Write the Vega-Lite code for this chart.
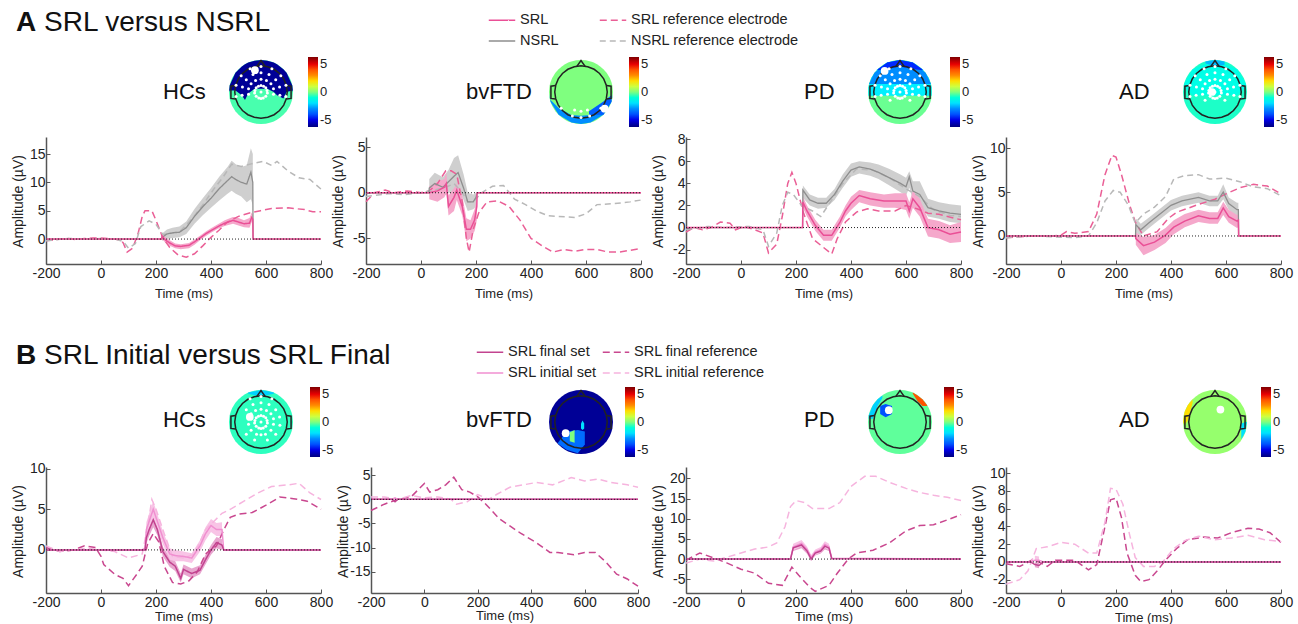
{"$schema":"https://vega.github.io/schema/vega-lite/v6.json","padding":{"left":10,"top":6,"right":5,"bottom":2},"background":"white",
"config":{"locale":{"number":{"decimal":".","thousands":",","grouping":[3],"currency":["$",""],"minus":"-"}},"view":{"stroke":null},"font":"Liberation Sans","axis":{"grid":false,"domainColor":"#555","domainWidth":1.5,"tickColor":"#555","tickSize":-4,"labelColor":"#222","titleColor":"#222","labelFontSize":14,"titleFontSize":13,"titleFontWeight":"normal","labelOverlap":false,"labelFlush":false},"axisX":{"tickCount":6,"labelPadding":6},"axisY":{"titleX":-21,"titleY":64,"labelPadding":5,"titleFontSize":14},"title":{"font":"Liberation Sans","fontWeight":"normal","color":"#111","anchor":"start","frame":"group","baseline":"alphabetic"},"legend":{"labelFontSize":13,"labelColor":"#222","gradientLength":70,"gradientThickness":10,"labelOffset":4,"tickCount":3,"labelLimit":260}},
"datasets":{
"zero":[{"t":-200,"y":0},{"t":800,"y":0}],
"scalp":[{"x":-1,"y":0,"y2":0},{"x":-0.98,"y":0.2,"y2":-0.2},{"x":-0.95,"y":0.31,"y2":-0.31},{"x":-0.9,"y":0.44,"y2":-0.44},{"x":-0.8,"y":0.6,"y2":-0.6},{"x":-0.7,"y":0.71,"y2":-0.71},{"x":-0.6,"y":0.8,"y2":-0.8},{"x":-0.5,"y":0.87,"y2":-0.87},{"x":-0.4,"y":0.92,"y2":-0.92},{"x":-0.3,"y":0.95,"y2":-0.95},{"x":-0.15,"y":0.99,"y2":-0.99},{"x":0,"y":1,"y2":-1},{"x":0.15,"y":0.99,"y2":-0.99},{"x":0.3,"y":0.95,"y2":-0.95},{"x":0.4,"y":0.92,"y2":-0.92},{"x":0.5,"y":0.87,"y2":-0.87},{"x":0.6,"y":0.8,"y2":-0.8},{"x":0.7,"y":0.71,"y2":-0.71},{"x":0.8,"y":0.6,"y2":-0.6},{"x":0.9,"y":0.44,"y2":-0.44},{"x":0.95,"y":0.31,"y2":-0.31},{"x":0.98,"y":0.2,"y2":-0.2},{"x":1,"y":0,"y2":0}],
"head":[{"p":0,"i":0,"x":0,"y":0.82},{"p":0,"i":1,"x":0.21,"y":0.79},{"p":0,"i":2,"x":0.41,"y":0.71},{"p":0,"i":3,"x":0.58,"y":0.58},{"p":0,"i":4,"x":0.71,"y":0.41},{"p":0,"i":5,"x":0.79,"y":0.21},{"p":0,"i":6,"x":0.82,"y":0},{"p":0,"i":7,"x":0.79,"y":-0.21},{"p":0,"i":8,"x":0.71,"y":-0.41},{"p":0,"i":9,"x":0.58,"y":-0.58},{"p":0,"i":10,"x":0.41,"y":-0.71},{"p":0,"i":11,"x":0.21,"y":-0.79},{"p":0,"i":12,"x":0,"y":-0.82},{"p":0,"i":13,"x":-0.21,"y":-0.79},{"p":0,"i":14,"x":-0.41,"y":-0.71},{"p":0,"i":15,"x":-0.58,"y":-0.58},{"p":0,"i":16,"x":-0.71,"y":-0.41},{"p":0,"i":17,"x":-0.79,"y":-0.21},{"p":0,"i":18,"x":-0.82,"y":0},{"p":0,"i":19,"x":-0.79,"y":0.21},{"p":0,"i":20,"x":-0.71,"y":0.41},{"p":0,"i":21,"x":-0.58,"y":0.58},{"p":0,"i":22,"x":-0.41,"y":0.71},{"p":0,"i":23,"x":-0.21,"y":0.79},{"p":0,"i":24,"x":0,"y":0.82},{"p":1,"i":25,"x":-0.13,"y":0.8},{"p":1,"i":26,"x":0,"y":0.98},{"p":1,"i":27,"x":0.13,"y":0.8},{"p":2,"i":28,"x":-0.8,"y":0.2},{"p":2,"i":29,"x":-0.94,"y":0.18},{"p":2,"i":30,"x":-0.94,"y":-0.2},{"p":2,"i":31,"x":-0.8,"y":-0.22},{"p":3,"i":32,"x":0.8,"y":0.2},{"p":3,"i":33,"x":0.94,"y":0.18},{"p":3,"i":34,"x":0.94,"y":-0.2},{"p":3,"i":35,"x":0.8,"y":-0.22}],
"elec":[{"x":0,"y":0},{"x":0,"y":0.2},{"x":0,"y":0.4},{"x":0,"y":0.6},{"x":0,"y":0.8},{"x":0.08,"y":0.18},{"x":0.17,"y":0.36},{"x":0.25,"y":0.55},{"x":0.34,"y":0.73},{"x":0.15,"y":0.13},{"x":0.31,"y":0.26},{"x":0.46,"y":0.38},{"x":0.62,"y":0.51},{"x":0.19,"y":0.05},{"x":0.39,"y":0.1},{"x":0.58,"y":0.16},{"x":0.78,"y":0.21},{"x":0.2,"y":-0.03},{"x":0.39,"y":-0.07},{"x":0.59,"y":-0.1},{"x":0.78,"y":-0.14},{"x":0.15,"y":-0.13},{"x":0.31,"y":-0.26},{"x":0.46,"y":-0.38},{"x":0.62,"y":-0.51},{"x":0.07,"y":-0.19},{"x":0.14,"y":-0.38},{"x":0.2,"y":-0.56},{"x":0.27,"y":-0.75},{"x":0,"y":-0.2},{"x":0,"y":-0.4},{"x":0,"y":-0.6},{"x":0,"y":-0.8},{"x":-0.08,"y":0.18},{"x":-0.17,"y":0.36},{"x":-0.25,"y":0.55},{"x":-0.34,"y":0.73},{"x":-0.15,"y":0.13},{"x":-0.31,"y":0.26},{"x":-0.46,"y":0.38},{"x":-0.62,"y":0.51},{"x":-0.19,"y":0.05},{"x":-0.39,"y":0.1},{"x":-0.58,"y":0.16},{"x":-0.78,"y":0.21},{"x":-0.2,"y":-0.03},{"x":-0.39,"y":-0.07},{"x":-0.59,"y":-0.1},{"x":-0.78,"y":-0.14},{"x":-0.15,"y":-0.13},{"x":-0.31,"y":-0.26},{"x":-0.46,"y":-0.38},{"x":-0.62,"y":-0.51},{"x":-0.07,"y":-0.19},{"x":-0.14,"y":-0.38},{"x":-0.2,"y":-0.56},{"x":-0.27,"y":-0.75}],
"a1s":[{"t":-200,"y":0},{"t":221,"y":0},{"t":222,"y":0.5,"lo":0,"hi":1},{"t":235,"y":-0.2,"lo":-0.7,"hi":0.3},{"t":250,"y":-0.7,"lo":-1.2,"hi":-0.2},{"t":270,"y":-1.2,"lo":-1.6,"hi":-0.8},{"t":290,"y":-1.3,"lo":-1.8,"hi":-0.9},{"t":320,"y":-1.1,"lo":-1.6,"hi":-0.7},{"t":340,"y":-0.5,"lo":-1,"hi":-0.1},{"t":360,"y":0.2,"lo":-0.2,"hi":0.6},{"t":380,"y":0.9,"lo":0.5,"hi":1.3},{"t":400,"y":1.5,"lo":1.1,"hi":1.9},{"t":425,"y":2.2,"lo":1.8,"hi":2.6},{"t":450,"y":2.8,"lo":2.3,"hi":3.3},{"t":480,"y":3.3,"lo":2.7,"hi":3.9},{"t":500,"y":3,"lo":2.4,"hi":3.7},{"t":520,"y":2.7,"lo":2.1,"hi":3.3},{"t":540,"y":2.8,"lo":2,"hi":3.7},{"t":548,"y":3.8,"lo":3,"hi":4.7},{"t":552,"y":3.5,"lo":2.8,"hi":4.3},{"t":553,"y":0},{"t":800,"y":0}],
"a1n":[{"t":-200,"y":0},{"t":221,"y":0},{"t":222,"y":0.3,"lo":-0.3,"hi":1},{"t":240,"y":0.9,"lo":0,"hi":1.7},{"t":260,"y":1.1,"lo":0.2,"hi":2},{"t":285,"y":1.2,"lo":0.3,"hi":2.2},{"t":310,"y":2,"lo":0.9,"hi":3.1},{"t":340,"y":4,"lo":2.7,"hi":5.3},{"t":370,"y":5.7,"lo":4.2,"hi":7.2},{"t":400,"y":7.2,"lo":5.5,"hi":9},{"t":430,"y":8.9,"lo":6.8,"hi":11},{"t":460,"y":10.3,"lo":8,"hi":12.7},{"t":475,"y":11,"lo":8.5,"hi":13.8},{"t":490,"y":10.5,"lo":8,"hi":13.2},{"t":510,"y":10,"lo":7.5,"hi":12.7},{"t":530,"y":9.7,"lo":6.5,"hi":13},{"t":545,"y":11.8,"lo":7,"hi":16},{"t":552,"y":10,"lo":6,"hi":15},{"t":553,"y":0},{"t":800,"y":0}],
"a1rs":[{"t":-200,"y":-0.3},{"t":-150,"y":0},{"t":-120,"y":0.1},{"t":-90,"y":-0.1},{"t":-60,"y":0.1},{"t":-30,"y":0.2},{"t":0,"y":0.2},{"t":30,"y":0.1},{"t":60,"y":-0.1},{"t":80,"y":-0.6},{"t":95,"y":-2.3},{"t":115,"y":-1.6},{"t":135,"y":1},{"t":150,"y":4},{"t":160,"y":5},{"t":185,"y":5},{"t":200,"y":3.3},{"t":225,"y":0.2},{"t":250,"y":-1.5},{"t":280,"y":-2.8},{"t":310,"y":-3.2},{"t":340,"y":-2.6},{"t":370,"y":-1.2},{"t":400,"y":0.3},{"t":430,"y":1.6},{"t":460,"y":3},{"t":500,"y":4},{"t":540,"y":4.6},{"t":580,"y":5},{"t":620,"y":5.4},{"t":680,"y":5.5},{"t":740,"y":5.2},{"t":770,"y":4.8},{"t":800,"y":4.8}],
"a1rn":[{"t":-200,"y":-0.3},{"t":-120,"y":0.1},{"t":-60,"y":0},{"t":0,"y":0.1},{"t":50,"y":0},{"t":80,"y":-0.4},{"t":100,"y":-1.6},{"t":125,"y":-0.8},{"t":145,"y":2.2},{"t":175,"y":3.2},{"t":200,"y":2.6},{"t":225,"y":0.8},{"t":255,"y":1},{"t":290,"y":1.5},{"t":330,"y":3.5},{"t":370,"y":6},{"t":410,"y":8.8},{"t":445,"y":11},{"t":475,"y":13.2},{"t":510,"y":12.8},{"t":550,"y":13.3},{"t":590,"y":13.7},{"t":620,"y":13},{"t":640,"y":13.7},{"t":680,"y":12},{"t":720,"y":10.8},{"t":760,"y":10.5},{"t":800,"y":8.8}],
"a2s":[{"t":-200,"y":0},{"t":29,"y":0},{"t":30,"y":0,"lo":-0.7,"hi":0.7},{"t":60,"y":0.2,"lo":-1,"hi":1.2},{"t":85,"y":0.6,"lo":-0.5,"hi":1.5},{"t":92,"y":1,"lo":0,"hi":2.2},{"t":100,"y":-1.5,"lo":-2.5,"hi":-0.3},{"t":120,"y":-0.5,"lo":-2,"hi":0.5},{"t":130,"y":0.3,"lo":-0.8,"hi":1},{"t":150,"y":-1.5,"lo":-2.5,"hi":-0.3},{"t":165,"y":-4,"lo":-5.3,"hi":-2.8},{"t":180,"y":-4,"lo":-5,"hi":-3},{"t":195,"y":-3,"lo":-4.2,"hi":-1.8},{"t":203,"y":-1.5,"lo":-3,"hi":-0.3},{"t":204,"y":0},{"t":800,"y":0}],
"a2n":[{"t":-200,"y":0},{"t":29,"y":0},{"t":30,"y":0.5,"lo":-0.2,"hi":1.5},{"t":50,"y":1,"lo":0,"hi":2.2},{"t":80,"y":0.6,"lo":-0.5,"hi":1.7},{"t":100,"y":1.2,"lo":0,"hi":2.5},{"t":120,"y":1.8,"lo":0,"hi":3.8},{"t":135,"y":2.2,"lo":0.3,"hi":4.1},{"t":155,"y":0.5,"lo":-0.8,"hi":2},{"t":170,"y":-1,"lo":-2,"hi":0},{"t":190,"y":-1,"lo":-1.8,"hi":-0.2},{"t":200,"y":-0.5,"lo":-1.5,"hi":0},{"t":204,"y":0},{"t":800,"y":0}],
"a2rs":[{"t":-200,"y":-1},{"t":-170,"y":0},{"t":-130,"y":0.3},{"t":-100,"y":0},{"t":-50,"y":0.2},{"t":0,"y":0},{"t":30,"y":0.2},{"t":60,"y":1},{"t":90,"y":2.4},{"t":110,"y":2.4},{"t":130,"y":2},{"t":150,"y":-1},{"t":165,"y":-5},{"t":175,"y":-6.5},{"t":190,"y":-4},{"t":210,"y":-2.2},{"t":240,"y":-1},{"t":280,"y":-0.9},{"t":320,"y":-1.5},{"t":360,"y":-3},{"t":400,"y":-5},{"t":440,"y":-5.8},{"t":480,"y":-6.5},{"t":520,"y":-6.2},{"t":560,"y":-6.4},{"t":600,"y":-6.2},{"t":640,"y":-6.2},{"t":680,"y":-6.5},{"t":720,"y":-6.5},{"t":760,"y":-6.3},{"t":800,"y":-6.1}],
"a2rn":[{"t":-200,"y":-0.4},{"t":-120,"y":-0.1},{"t":-60,"y":-0.2},{"t":0,"y":0},{"t":50,"y":0.3},{"t":90,"y":0.6},{"t":120,"y":1},{"t":150,"y":0},{"t":170,"y":-1},{"t":190,"y":-1},{"t":220,"y":0},{"t":260,"y":0.7},{"t":300,"y":0.8},{"t":340,"y":-0.7},{"t":380,"y":-1.3},{"t":420,"y":-2},{"t":460,"y":-2.5},{"t":500,"y":-2.6},{"t":560,"y":-2.7},{"t":600,"y":-2.3},{"t":640,"y":-1.3},{"t":700,"y":-1.2},{"t":760,"y":-1},{"t":800,"y":-0.8}],
"a3s":[{"t":-200,"y":0},{"t":224,"y":0},{"t":225,"y":2.3,"lo":1.8,"hi":2.8},{"t":240,"y":1.5,"lo":1,"hi":2},{"t":270,"y":0.2,"lo":-0.3,"hi":0.7},{"t":300,"y":-0.7,"lo":-1.2,"hi":-0.2},{"t":330,"y":-0.7,"lo":-1.2,"hi":-0.2},{"t":360,"y":0.5,"lo":0,"hi":1},{"t":380,"y":1.5,"lo":1,"hi":2},{"t":400,"y":2.2,"lo":1.6,"hi":2.8},{"t":430,"y":2.9,"lo":2.3,"hi":3.4},{"t":470,"y":2.6,"lo":2,"hi":3.2},{"t":520,"y":2.4,"lo":1.8,"hi":3},{"t":560,"y":2.4,"lo":1.8,"hi":3.1},{"t":600,"y":2.4,"lo":1.6,"hi":3.1},{"t":612,"y":1.5,"lo":0.8,"hi":2.3},{"t":625,"y":2.6,"lo":1.8,"hi":3.3},{"t":650,"y":1.8,"lo":1,"hi":2.6},{"t":680,"y":0,"lo":-0.8,"hi":0.8},{"t":720,"y":-0.2,"lo":-1,"hi":0.6},{"t":760,"y":-0.6,"lo":-1.4,"hi":0.2},{"t":800,"y":-0.4,"lo":-1.3,"hi":0.5}],
"a3n":[{"t":-200,"y":0},{"t":224,"y":0},{"t":225,"y":3.4,"lo":2.7,"hi":3.8},{"t":250,"y":2.5,"lo":2,"hi":3},{"t":280,"y":2.2,"lo":1.7,"hi":2.7},{"t":310,"y":2.2,"lo":1.8,"hi":2.7},{"t":340,"y":3,"lo":2.5,"hi":3.5},{"t":370,"y":4.2,"lo":3.6,"hi":4.8},{"t":400,"y":5.2,"lo":4.6,"hi":5.8},{"t":430,"y":5.5,"lo":4.9,"hi":6},{"t":470,"y":5.3,"lo":4.7,"hi":5.9},{"t":500,"y":5,"lo":4.4,"hi":5.7},{"t":540,"y":4.5,"lo":3.8,"hi":5.3},{"t":580,"y":4,"lo":3.2,"hi":4.8},{"t":600,"y":3.7,"lo":2.9,"hi":4.5},{"t":612,"y":4.6,"lo":3.6,"hi":5.1},{"t":625,"y":3.3,"lo":2.5,"hi":4.2},{"t":650,"y":3,"lo":2.2,"hi":4.2},{"t":680,"y":1.8,"lo":1,"hi":2.6},{"t":720,"y":1.5,"lo":0.8,"hi":2.3},{"t":760,"y":1.3,"lo":0.5,"hi":2.1},{"t":800,"y":1.2,"lo":0.4,"hi":2}],
"a3rs":[{"t":-200,"y":-0.4},{"t":-170,"y":0},{"t":-140,"y":-0.2},{"t":-110,"y":0},{"t":-75,"y":0.5},{"t":-40,"y":0.4},{"t":-20,"y":-0.2},{"t":10,"y":0.1},{"t":50,"y":-0.2},{"t":80,"y":-0.5},{"t":100,"y":-2.3},{"t":130,"y":-1.5},{"t":150,"y":1},{"t":170,"y":4},{"t":185,"y":5},{"t":200,"y":4},{"t":225,"y":1.5},{"t":260,"y":-1},{"t":300,"y":-1.8},{"t":330,"y":-2.4},{"t":350,"y":-1},{"t":380,"y":0.5},{"t":420,"y":1.4},{"t":460,"y":1.7},{"t":500,"y":1.5},{"t":560,"y":1.5},{"t":600,"y":2},{"t":640,"y":1.7},{"t":680,"y":1.3},{"t":720,"y":1.2},{"t":800,"y":0.7}],
"a3rn":[{"t":-200,"y":-0.2},{"t":-120,"y":0.1},{"t":-60,"y":0},{"t":30,"y":0.1},{"t":80,"y":-0.2},{"t":100,"y":-1.7},{"t":130,"y":-0.5},{"t":150,"y":2},{"t":170,"y":3.2},{"t":190,"y":3},{"t":220,"y":2},{"t":260,"y":1.5},{"t":290,"y":1},{"t":330,"y":2.5},{"t":370,"y":4},{"t":420,"y":5.3},{"t":480,"y":5.2},{"t":540,"y":4.5},{"t":600,"y":3.5},{"t":650,"y":2.8},{"t":700,"y":1.6},{"t":760,"y":1.1},{"t":800,"y":1}],
"a4s":[{"t":-200,"y":0},{"t":271,"y":0},{"t":272,"y":-0.3,"lo":-1,"hi":0.4},{"t":300,"y":-1.1,"lo":-2.2,"hi":-0.1},{"t":340,"y":-0.7,"lo":-1.6,"hi":0.1},{"t":380,"y":0.1,"lo":-0.8,"hi":0.9},{"t":410,"y":1,"lo":0.2,"hi":1.8},{"t":450,"y":1.7,"lo":1,"hi":2.5},{"t":500,"y":2.3,"lo":1.6,"hi":3},{"t":540,"y":2,"lo":1.4,"hi":2.7},{"t":570,"y":2,"lo":1.4,"hi":2.7},{"t":590,"y":3.2,"lo":2.4,"hi":3.9},{"t":610,"y":2.2,"lo":1.5,"hi":3},{"t":640,"y":1.7,"lo":0.9,"hi":2.4},{"t":645,"y":1.8,"lo":1,"hi":2.5},{"t":646,"y":0},{"t":800,"y":0}],
"a4n":[{"t":-200,"y":0},{"t":271,"y":0},{"t":272,"y":1.3,"lo":0.3,"hi":2},{"t":290,"y":0.7,"lo":0.1,"hi":1.4},{"t":320,"y":1.5,"lo":0.9,"hi":2.1},{"t":360,"y":2.5,"lo":1.9,"hi":3.1},{"t":400,"y":3.5,"lo":2.9,"hi":4.1},{"t":440,"y":4,"lo":3.4,"hi":4.6},{"t":500,"y":4.4,"lo":3.8,"hi":5},{"t":540,"y":4,"lo":3.4,"hi":4.6},{"t":570,"y":4,"lo":3.4,"hi":4.6},{"t":590,"y":5,"lo":4.2,"hi":5.9},{"t":610,"y":3.7,"lo":3,"hi":4.4},{"t":640,"y":3,"lo":2.2,"hi":3.8},{"t":645,"y":3,"lo":2.2,"hi":3.8},{"t":646,"y":0},{"t":800,"y":0}],
"a4rs":[{"t":-200,"y":-0.2},{"t":-100,"y":0},{"t":-30,"y":0},{"t":0,"y":0.1},{"t":20,"y":0.5},{"t":50,"y":0.3},{"t":100,"y":0.5},{"t":130,"y":2.5},{"t":160,"y":7},{"t":185,"y":9.2},{"t":200,"y":9},{"t":220,"y":7},{"t":250,"y":3.5},{"t":270,"y":1.6},{"t":300,"y":0},{"t":350,"y":0.5},{"t":390,"y":2},{"t":420,"y":2.7},{"t":500,"y":3.6},{"t":560,"y":4.2},{"t":600,"y":4.8},{"t":650,"y":5.5},{"t":700,"y":5.9},{"t":750,"y":5.7},{"t":800,"y":4.8}],
"a4rn":[{"t":-200,"y":-0.2},{"t":-100,"y":0},{"t":50,"y":-0.2},{"t":100,"y":0},{"t":130,"y":1.5},{"t":160,"y":4},{"t":190,"y":5.2},{"t":215,"y":5},{"t":245,"y":3.5},{"t":270,"y":1.5},{"t":300,"y":2.5},{"t":340,"y":3.3},{"t":380,"y":4.5},{"t":410,"y":6.5},{"t":450,"y":6.9},{"t":500,"y":7},{"t":540,"y":6.5},{"t":600,"y":6.6},{"t":650,"y":6.2},{"t":700,"y":5.6},{"t":750,"y":5.4},{"t":800,"y":4.6}],
"b1f":[{"t":-200,"y":0},{"t":159,"y":0},{"t":160,"y":0,"lo":-0.4,"hi":0.4},{"t":165,"y":1.5,"lo":0.8,"hi":2.2},{"t":175,"y":2.5,"lo":1.7,"hi":3.2},{"t":190,"y":3.7,"lo":2.8,"hi":4.5},{"t":205,"y":2.5,"lo":1.8,"hi":3.2},{"t":225,"y":-0.2,"lo":-0.8,"hi":0.4},{"t":250,"y":-1.5,"lo":-2.1,"hi":-0.9},{"t":270,"y":-2,"lo":-2.6,"hi":-1.4},{"t":290,"y":-3.5,"lo":-4,"hi":-2.9},{"t":300,"y":-2.4,"lo":-3,"hi":-1.8},{"t":330,"y":-2.9,"lo":-3.5,"hi":-2.3},{"t":360,"y":-2.5,"lo":-3,"hi":-1.9},{"t":380,"y":-1.2,"lo":-1.8,"hi":-0.6},{"t":400,"y":0,"lo":-0.6,"hi":0.6},{"t":420,"y":0.9,"lo":0.2,"hi":1.6},{"t":440,"y":0.6,"lo":0,"hi":1.3},{"t":446,"y":0},{"t":800,"y":0}],
"b1i":[{"t":-200,"y":0},{"t":159,"y":0},{"t":160,"y":0,"lo":-0.4,"hi":0.4},{"t":165,"y":2.5,"lo":1.6,"hi":3.4},{"t":180,"y":4,"lo":3,"hi":5},{"t":190,"y":5,"lo":4,"hi":6},{"t":205,"y":3.5,"lo":2.6,"hi":4.4},{"t":225,"y":1.5,"lo":0.7,"hi":2.3},{"t":250,"y":-0.5,"lo":-1.2,"hi":0.2},{"t":270,"y":-0.7,"lo":-1.4,"hi":0},{"t":300,"y":-0.8,"lo":-1.4,"hi":-0.2},{"t":330,"y":-1,"lo":-1.6,"hi":-0.4},{"t":360,"y":0.5,"lo":-0.2,"hi":1.2},{"t":380,"y":2,"lo":1.2,"hi":2.8},{"t":400,"y":3,"lo":2.2,"hi":3.8},{"t":420,"y":2.5,"lo":1.7,"hi":3.3},{"t":440,"y":2.5,"lo":1.7,"hi":3.4},{"t":446,"y":0},{"t":800,"y":0}],
"b1rf":[{"t":-200,"y":0.3},{"t":-150,"y":-0.2},{"t":-100,"y":0},{"t":-60,"y":0.5},{"t":-20,"y":0.3},{"t":0,"y":-0.8},{"t":10,"y":-1.8},{"t":50,"y":-3},{"t":80,"y":-3.5},{"t":100,"y":-4.4},{"t":130,"y":-3},{"t":150,"y":-2},{"t":170,"y":0.8},{"t":190,"y":2},{"t":210,"y":1},{"t":230,"y":-2},{"t":260,"y":-4},{"t":290,"y":-4.2},{"t":320,"y":-3.8},{"t":350,"y":-2.7},{"t":380,"y":-0.5},{"t":420,"y":0.5},{"t":450,"y":2.7},{"t":470,"y":4},{"t":500,"y":4.4},{"t":550,"y":4.6},{"t":600,"y":5.5},{"t":650,"y":6.5},{"t":700,"y":6.3},{"t":750,"y":6},{"t":800,"y":5}],
"b1ri":[{"t":-200,"y":0.5},{"t":-150,"y":-0.2},{"t":-100,"y":0},{"t":-50,"y":0.2},{"t":50,"y":-0.2},{"t":100,"y":-1},{"t":150,"y":-0.5},{"t":170,"y":3},{"t":185,"y":6.2},{"t":200,"y":5},{"t":230,"y":2},{"t":260,"y":-0.8},{"t":300,"y":-1},{"t":340,"y":-0.5},{"t":380,"y":2.5},{"t":410,"y":3.5},{"t":440,"y":4.5},{"t":470,"y":5},{"t":520,"y":6},{"t":570,"y":7},{"t":620,"y":7.8},{"t":680,"y":8},{"t":720,"y":8.2},{"t":760,"y":7},{"t":800,"y":6.2}],
"b2f":[{"t":-200,"y":0},{"t":-120,"y":0},{"t":-110,"y":-0.5,"lo":-0.8,"hi":-0.2},{"t":-100,"y":0},{"t":800,"y":0}],
"b2i":[{"t":-200,"y":0},{"t":-120,"y":0},{"t":-110,"y":0.3,"lo":0,"hi":0.5},{"t":-100,"y":0},{"t":800,"y":0}],
"b2rf":[{"t":-200,"y":-2.3},{"t":-150,"y":-1},{"t":-100,"y":0},{"t":-50,"y":0.5},{"t":0,"y":3.3},{"t":20,"y":1.5},{"t":50,"y":2},{"t":80,"y":3},{"t":110,"y":4.6},{"t":140,"y":2},{"t":170,"y":1.5},{"t":200,"y":0.5},{"t":230,"y":-1},{"t":280,"y":-4},{"t":320,"y":-5.5},{"t":360,"y":-7},{"t":420,"y":-9},{"t":470,"y":-11},{"t":500,"y":-11},{"t":560,"y":-11.5},{"t":600,"y":-11},{"t":640,"y":-11},{"t":680,"y":-13},{"t":720,"y":-15.5},{"t":760,"y":-16.5},{"t":800,"y":-18}],
"b2ri":[{"t":-200,"y":0.5},{"t":-150,"y":0.5},{"t":-100,"y":0},{"t":-50,"y":0.8},{"t":0,"y":0.3},{"t":50,"y":0.5},{"t":100,"y":0},{"t":120,"y":-1},{"t":160,"y":-0.5},{"t":200,"y":1},{"t":240,"y":0},{"t":270,"y":1},{"t":320,"y":2.5},{"t":370,"y":3},{"t":420,"y":3.5},{"t":480,"y":3},{"t":550,"y":4.5},{"t":600,"y":3.8},{"t":650,"y":4.2},{"t":700,"y":3.5},{"t":760,"y":3},{"t":800,"y":2.5}],
"b3f":[{"t":-200,"y":0},{"t":179,"y":0},{"t":180,"y":0,"lo":-0.3,"hi":0.3},{"t":190,"y":2.8,"lo":2,"hi":3.6},{"t":220,"y":3.5,"lo":2.7,"hi":4.3},{"t":240,"y":2,"lo":1.3,"hi":2.7},{"t":255,"y":0,"lo":-0.5,"hi":0.5},{"t":270,"y":1.5,"lo":0.9,"hi":2.1},{"t":290,"y":2,"lo":1.4,"hi":2.6},{"t":305,"y":3.2,"lo":2.4,"hi":4},{"t":320,"y":2.7,"lo":2,"hi":3.4},{"t":330,"y":0.1,"lo":-0.3,"hi":0.5},{"t":800,"y":0}],
"b3i":[{"t":-200,"y":0},{"t":179,"y":0},{"t":180,"y":0,"lo":-0.3,"hi":0.3},{"t":190,"y":3,"lo":2.2,"hi":3.8},{"t":220,"y":3.9,"lo":3.2,"hi":4.7},{"t":240,"y":2.4,"lo":1.7,"hi":3.1},{"t":255,"y":0.4,"lo":-0.2,"hi":1},{"t":270,"y":1.7,"lo":1,"hi":2.4},{"t":290,"y":2.3,"lo":1.6,"hi":3},{"t":305,"y":3.6,"lo":2.8,"hi":4.4},{"t":320,"y":3,"lo":2.2,"hi":3.8},{"t":330,"y":0.2,"lo":-0.3,"hi":0.6},{"t":800,"y":0}],
"b3rf":[{"t":-200,"y":-0.3},{"t":-150,"y":1.5},{"t":-100,"y":0.3},{"t":-50,"y":-1},{"t":0,"y":-2.5},{"t":50,"y":-3.5},{"t":100,"y":-6},{"t":150,"y":-6.5},{"t":185,"y":-2},{"t":210,"y":-4},{"t":250,"y":-7},{"t":270,"y":-8},{"t":320,"y":-6.5},{"t":350,"y":-3.5},{"t":390,"y":0},{"t":420,"y":1.5},{"t":480,"y":2.2},{"t":540,"y":4},{"t":600,"y":7},{"t":650,"y":8.3},{"t":700,"y":8.5},{"t":750,"y":9.7},{"t":800,"y":11}],
"b3ri":[{"t":-200,"y":-1},{"t":-150,"y":0},{"t":-100,"y":-0.5},{"t":-50,"y":0.5},{"t":0,"y":1.5},{"t":50,"y":2.5},{"t":100,"y":3},{"t":130,"y":4},{"t":160,"y":8},{"t":180,"y":13},{"t":200,"y":14.5},{"t":230,"y":14},{"t":260,"y":12.5},{"t":320,"y":12.5},{"t":360,"y":14},{"t":400,"y":18},{"t":450,"y":20.5},{"t":490,"y":20.5},{"t":540,"y":19},{"t":600,"y":17.5},{"t":650,"y":16.5},{"t":700,"y":15.8},{"t":750,"y":15.3},{"t":800,"y":14.5}],
"b4f":[{"t":-200,"y":0},{"t":-110,"y":0},{"t":-95,"y":-0.3,"lo":-0.6,"hi":0},{"t":-80,"y":-0.4,"lo":-0.7,"hi":0},{"t":-65,"y":0},{"t":800,"y":0}],
"b4i":[{"t":-200,"y":0},{"t":-110,"y":0},{"t":-95,"y":0.2,"lo":-0.1,"hi":0.7},{"t":-80,"y":0.2,"lo":-0.1,"hi":0.6},{"t":-65,"y":0},{"t":800,"y":0}],
"b4rf":[{"t":-200,"y":-0.2},{"t":-150,"y":-0.5},{"t":-100,"y":0.3},{"t":-50,"y":-0.5},{"t":-20,"y":0.2},{"t":50,"y":0.2},{"t":100,"y":-0.9},{"t":130,"y":-0.3},{"t":160,"y":4},{"t":180,"y":7},{"t":200,"y":7.2},{"t":220,"y":5},{"t":240,"y":1},{"t":270,"y":-1.5},{"t":290,"y":-2.2},{"t":320,"y":-2},{"t":350,"y":-1},{"t":380,"y":0.2},{"t":420,"y":1.5},{"t":460,"y":2.5},{"t":520,"y":2.8},{"t":570,"y":2.7},{"t":620,"y":3.3},{"t":680,"y":3.8},{"t":720,"y":3.7},{"t":760,"y":3.3},{"t":800,"y":2.2}],
"b4ri":[{"t":-200,"y":-2.5},{"t":-150,"y":-2},{"t":-120,"y":-1},{"t":-90,"y":1.5},{"t":-50,"y":1.7},{"t":0,"y":2.2},{"t":50,"y":2},{"t":100,"y":1},{"t":130,"y":1},{"t":160,"y":4.5},{"t":180,"y":8.3},{"t":200,"y":8.2},{"t":225,"y":6.5},{"t":250,"y":3},{"t":270,"y":0.5},{"t":300,"y":-0.5},{"t":340,"y":-0.5},{"t":370,"y":0},{"t":410,"y":1.5},{"t":450,"y":2.4},{"t":500,"y":2.9},{"t":560,"y":2.5},{"t":620,"y":2.7},{"t":680,"y":3},{"t":740,"y":2.5},{"t":800,"y":2.3}]
},
"bounds":"flush","columns":4,"spacing":{"row":9,"column":45},"resolve":{"legend":{"fill":"independent","stroke":"independent","strokeDash":"independent"}},
"concat":[
{"width":275,"height":30,"title":{"text":"A","fontWeight":"bold","fontSize":28,"dx":-30,"offset":-20},"data":{"values":[]},"mark":"point","encoding":{}},
{"width":275,"height":30,"title":{"text":"SRL versus NSRL","fontSize":28,"dx":-322,"offset":-20},"data":{"values":[]},"mark":"point","encoding":{}},
{"width":275,"height":30,"data":{"values":[]},"mark":"point","encoding":{}},
{"width":275,"height":30,"data":{"values":[]},"mark":"point","encoding":{}},
{"width":275,"height":72,"title":{"text":"HCs","dx":117,"offset":-48,"fontSize":22},"encoding":{"x":{"field":"x","type":"quantitative","scale":{"domain":[-6.719,1.875],"nice":false,"zero":false},"axis":null},"y":{"field":"y","type":"quantitative","scale":{"domain":[-1.125,1.125],"nice":false,"zero":false},"axis":null}},"layer":[
{"data":{"name":"scalp"},"mark":"area","encoding":{"y2":{"field":"y2"},"fill":{"datum":-0.5,"type":"quantitative","scale":{"domain":[-6.3,6.3],"range":["#00007f","#0000ff","#007fff","#00ffff","#7fff7f","#ffff00","#ff7f00","#ff0000","#7f0000"]},"legend":{"orient":"none","legendX":262,"legendY":1,"values":[5,0,-5],"title":null}}}},
{"data":{"values":[{"v":-6,"x":-1,"y":0,"y2":0},{"x":-0.98,"v":-6,"y":0.2,"y2":0.05},{"x":-0.8,"v":-6,"y":0.6,"y2":0.05},{"x":-0.6,"v":-6,"y":0.8,"y2":-0.1},{"x":-0.5,"v":-6,"y":0.87,"y2":-0.25},{"x":-0.4,"v":-6,"y":0.92,"y2":-0.05},{"x":-0.2,"v":-6,"y":0.98,"y2":0.1},{"x":0,"v":-6,"y":1,"y2":0.1},{"x":0.2,"v":-6,"y":0.98,"y2":0.1},{"x":0.4,"v":-6,"y":0.92,"y2":0},{"x":0.5,"v":-6,"y":0.87,"y2":-0.1},{"x":0.7,"v":-6,"y":0.71,"y2":-0.2},{"x":0.8,"v":-6,"y":0.6,"y2":0},{"x":0.98,"v":-6,"y":0.2,"y2":0.05},{"x":1,"v":-6,"y":0,"y2":0}]},"mark":"area","encoding":{"y2":{"field":"y2"},"fill":{"field":"v","type":"quantitative","legend":null}}},
{"data":{"name":"head"},"mark":{"type":"line","color":"#222","strokeWidth":1.5},"encoding":{"detail":{"field":"p"},"order":{"field":"i"}}},
{"data":{"name":"elec"},"transform":[{"filter":"datum.y>-0.22"}],"mark":{"type":"point","filled":true,"color":"white","size":9,"opacity":1}},
{"data":{"values":[{"x":-0.19,"y":0.68}]},"mark":{"type":"point","filled":true,"color":"white","size":60,"opacity":1}}]},
{"width":275,"height":72,"title":{"text":"bvFTD","dx":100,"offset":-48,"fontSize":22},"encoding":{"x":{"field":"x","type":"quantitative","scale":{"domain":[-6.719,1.875],"nice":false,"zero":false},"axis":null},"y":{"field":"y","type":"quantitative","scale":{"domain":[-1.125,1.125],"nice":false,"zero":false},"axis":null}},"layer":[
{"data":{"name":"scalp"},"mark":"area","encoding":{"y2":{"field":"y2"},"fill":{"datum":0,"type":"quantitative","legend":{"orient":"none","legendX":263,"legendY":1,"values":[5,0,-5],"title":null}}}},
{"data":{"values":[{"x":-1,"y":-0.05,"y2":-0.05,"v":-3},{"x":-0.95,"y":-0.25,"y2":-0.31,"v":-3},{"x":-0.7,"y":-0.5,"y2":-0.71,"v":-3},{"x":-0.3,"y":-0.72,"y2":-0.95,"v":-3},{"x":0,"y":-0.74,"y2":-1,"v":-3},{"x":0.3,"y":-0.72,"y2":-0.95,"v":-3},{"x":0.7,"y":-0.5,"y2":-0.71,"v":-3},{"x":0.95,"y":-0.25,"y2":-0.31,"v":-3},{"x":1,"y":-0.05,"y2":-0.05,"v":-3},{"x":0.25,"y":-0.6,"y2":-0.72,"v":-3.8},{"x":0.7,"y":-0.3,"y2":-0.71,"v":-3.8},{"x":0.95,"y":-0.1,"y2":-0.31,"v":-3.8}]},"mark":"area","encoding":{"y2":{"field":"y2"},"fill":{"field":"v","type":"quantitative","legend":null}}},
{"data":{"name":"head"},"mark":{"type":"line","color":"#222","strokeWidth":1.5},"encoding":{"detail":{"field":"p"},"order":{"field":"i"}}},
{"data":{"name":"elec"},"transform":[{"filter":"datum.y<-0.45"}],"mark":{"type":"point","filled":true,"color":"white","size":9,"opacity":1}},
{"data":{"values":[{"x":0.74,"y":-0.52}]},"mark":{"type":"point","filled":true,"color":"white","size":60,"opacity":1}}]},
{"width":275,"height":72,"title":{"text":"PD","dx":118,"offset":-48,"fontSize":22},"encoding":{"x":{"field":"x","type":"quantitative","scale":{"domain":[-6.688,1.906],"nice":false,"zero":false},"axis":null},"y":{"field":"y","type":"quantitative","scale":{"domain":[-1.125,1.125],"nice":false,"zero":false},"axis":null}},"layer":[
{"data":{"name":"scalp"},"mark":"area","encoding":{"y2":{"field":"y2"},"fill":{"datum":-0.2,"type":"quantitative","legend":{"orient":"none","legendX":264,"legendY":1,"values":[5,0,-5],"title":null}}}},
{"data":{"values":[{"x":-0.99,"y":0.14,"y2":-0.12,"v":-1.8},{"x":-0.9,"y":0.44,"y2":-0.12,"v":-1.8},{"x":-0.7,"y":0.71,"y2":-0.12,"v":-1.8},{"x":-0.4,"y":0.92,"y2":-0.12,"v":-1.8},{"x":0,"y":1,"y2":-0.12,"v":-1.8},{"x":0.4,"y":0.92,"y2":-0.12,"v":-1.8},{"x":0.7,"y":0.71,"y2":-0.12,"v":-1.8},{"x":0.9,"y":0.44,"y2":-0.12,"v":-1.8},{"x":0.99,"y":0.14,"y2":-0.12,"v":-1.8},{"x":-0.97,"y":0.25,"y2":0.25,"v":-3},{"x":-0.8,"y":0.6,"y2":0.25,"v":-3},{"x":-0.4,"y":0.92,"y2":0.25,"v":-3},{"x":0,"y":1,"y2":0.25,"v":-3},{"x":0.4,"y":0.92,"y2":0.25,"v":-3},{"x":0.8,"y":0.6,"y2":0.25,"v":-3},{"x":0.97,"y":0.25,"y2":0.25,"v":-3},{"x":-0.7,"y":0.71,"y2":0.68,"v":-4.5},{"x":-0.4,"y":0.92,"y2":0.72,"v":-4.5},{"x":0,"y":1,"y2":0.8,"v":-4.5},{"x":0.4,"y":0.92,"y2":0.72,"v":-4.5},{"x":0.7,"y":0.71,"y2":0.68,"v":-4.5}]},"mark":"area","encoding":{"y2":{"field":"y2"},"fill":{"field":"v","type":"quantitative","legend":null}}},
{"data":{"name":"head"},"mark":{"type":"line","color":"#222","strokeWidth":1.5},"encoding":{"detail":{"field":"p"},"order":{"field":"i"}}},
{"data":{"name":"elec"},"transform":[{"filter":"datum.y>-0.3"}],"mark":{"type":"point","filled":true,"color":"white","size":9,"opacity":1}},
{"data":{"values":[{"x":-0.48,"y":0.66}]},"mark":{"type":"point","filled":true,"color":"white","size":60,"opacity":1}}]},
{"width":275,"height":72,"title":{"text":"AD","dx":113,"offset":-48,"fontSize":22},"encoding":{"x":{"field":"x","type":"quantitative","scale":{"domain":[-6.531,2.063],"nice":false,"zero":false},"axis":null},"y":{"field":"y","type":"quantitative","scale":{"domain":[-1.125,1.125],"nice":false,"zero":false},"axis":null}},"layer":[
{"data":{"name":"scalp"},"mark":"area","encoding":{"y2":{"field":"y2"},"fill":{"datum":-0.8,"type":"quantitative","legend":{"orient":"none","legendX":258,"legendY":1,"values":[5,0,-5],"title":null}}}},
{"data":{"values":[{"x":-0.97,"y":0.25,"y2":0.15,"v":-1.2},{"x":-0.7,"y":0.71,"y2":-0.1,"v":-1.2},{"x":0,"y":1,"y2":-0.1,"v":-1.2},{"x":0.7,"y":0.71,"y2":-0.1,"v":-1.2},{"x":0.97,"y":0.25,"y2":0.15,"v":-1.2},{"x":-0.3,"y":0.95,"y2":0.9,"v":-2.5},{"x":0,"y":1,"y2":0.8,"v":-2.5},{"x":0.3,"y":0.95,"y2":0.85,"v":-2.5}]},"mark":"area","encoding":{"y2":{"field":"y2"},"fill":{"field":"v","type":"quantitative","legend":null}}},
{"data":{"name":"head"},"mark":{"type":"line","color":"#222","strokeWidth":1.5},"encoding":{"detail":{"field":"p"},"order":{"field":"i"}}},
{"data":{"name":"elec"},"transform":[{"filter":"datum.y>-0.3"}],"mark":{"type":"point","filled":true,"color":"white","size":9,"opacity":1}},
{"data":{"values":[{"x":-0.09,"y":0}]},"mark":{"type":"point","filled":true,"color":"white","size":60,"opacity":1}}]},
{"width":275,"height":127,"encoding":{"x":{"field":"t","type":"quantitative","scale":{"domain":[-200,800],"nice":false},"axis":{"title":"Time (ms)","titleY":23}},"y":{"field":"y","type":"quantitative","scale":{"domain":[-4.4,18],"nice":false,"zero":false},"axis":{"title":"Amplitude (µV)","values":[0,5,10,15]}}},"layer":[
{"data":{"name":"a1n"},"mark":{"type":"area","color":"#cfcfcf"},"encoding":{"y":{"field":"lo","type":"quantitative"},"y2":{"field":"hi"}}},
{"data":{"name":"a1s"},"mark":{"type":"area","color":"#f5a8cb"},"encoding":{"y":{"field":"lo","type":"quantitative"},"y2":{"field":"hi"}}},
{"data":{"name":"a1rs"},"mark":{"type":"line","strokeWidth":1.5},"encoding":{"stroke":{"datum":"SRL reference electrode","type":"nominal","scale":{"domain":["SRL","NSRL","SRL reference electrode","NSRL reference electrode","SRL final set","SRL initial set","SRL final reference","SRL initial reference"],"range":["#ea4f96","#8e8e8e","#ea5f96","#b8b8b8","#c2438f","#f08fd0","#c9478f","#f6b4de"]},"legend":{"orient":"none","legendX":442,"legendY":-131,"columns":2,"direction":"vertical","values":["SRL","NSRL","SRL reference electrode","NSRL reference electrode"],"title":null,"symbolType":"stroke","symbolSize":700,"rowPadding":0,"columnPadding":37,"labelFontSize":14.5}},"strokeDash":{"datum":"SRL reference electrode","type":"nominal","scale":{"domain":["SRL","NSRL","SRL reference electrode","NSRL reference electrode","SRL final set","SRL initial set","SRL final reference","SRL initial reference"],"range":[[1,0],[1,0],[7,4],[6,4],[1,0],[1,0],[7,4],[7,4]]},"legend":{"orient":"none","legendX":442,"legendY":-131,"columns":2,"direction":"vertical","values":["SRL","NSRL","SRL reference electrode","NSRL reference electrode"],"title":null,"symbolType":"stroke","symbolSize":700,"rowPadding":0,"columnPadding":37,"labelFontSize":14.5}}}},
{"data":{"name":"a1rn"},"mark":{"type":"line","strokeWidth":1.5},"encoding":{"stroke":{"datum":"NSRL reference electrode","type":"nominal","legend":null},"strokeDash":{"datum":"NSRL reference electrode","type":"nominal","legend":null}}},
{"data":{"name":"a1n"},"mark":{"type":"line","strokeWidth":1.3},"encoding":{"stroke":{"datum":"NSRL","type":"nominal","legend":null},"strokeDash":{"datum":"NSRL","type":"nominal","legend":null}}},
{"data":{"name":"a1s"},"mark":{"type":"line","strokeWidth":1.5},"encoding":{"stroke":{"datum":"SRL","type":"nominal","legend":null},"strokeDash":{"datum":"SRL","type":"nominal","legend":null}}},
{"data":{"name":"zero"},"mark":{"type":"line","color":"#222","strokeWidth":1,"strokeDash":[1,2]}},
{"mark":{"type":"rule","color":"#222","strokeWidth":1,"strokeDash":[1,2]},"encoding":{"x":{"datum":0},"y":{"datum":17.6},"y2":{"datum":-4.4}}},
{"mark":{"type":"rule","color":"#444","strokeWidth":1.4,"strokeDash":[9,4]},"encoding":{"x":{"datum":473},"y":{"datum":17.6},"y2":{"datum":-4.4}}},
{"data":{"values":[{"t":222,"t2":552}]},"mark":{"type":"rule","color":"black","strokeWidth":4.5},"encoding":{"x2":{"field":"t2"},"y":{"datum":17.6}}}]},
{"width":275,"height":127,"encoding":{"x":{"field":"t","type":"quantitative","scale":{"domain":[-200,800],"nice":false},"axis":{"title":"Time (ms)","titleY":23}},"y":{"field":"y","type":"quantitative","scale":{"domain":[-7.8,6.1],"nice":false,"zero":false},"axis":{"title":"Amplitude (µV)","values":[-5,0,5]}}},"layer":[
{"data":{"name":"a2n"},"mark":{"type":"area","color":"#cfcfcf"},"encoding":{"y":{"field":"lo","type":"quantitative"},"y2":{"field":"hi"}}},
{"data":{"name":"a2s"},"mark":{"type":"area","color":"#f5a8cb"},"encoding":{"y":{"field":"lo","type":"quantitative"},"y2":{"field":"hi"}}},
{"data":{"name":"a2rs"},"mark":{"type":"line","strokeWidth":1.5,"color":"#ea5f96","strokeDash":[7,4]}},
{"data":{"name":"a2rn"},"mark":{"type":"line","strokeWidth":1.5,"color":"#b8b8b8","strokeDash":[6,4]}},
{"data":{"name":"a2n"},"mark":{"type":"line","strokeWidth":1.3,"color":"#8e8e8e"}},
{"data":{"name":"a2s"},"mark":{"type":"line","strokeWidth":1.5,"color":"#ea4f96"}},
{"data":{"name":"zero"},"mark":{"type":"line","color":"#222","strokeWidth":1,"strokeDash":[1,2]}},
{"mark":{"type":"rule","color":"#222","strokeWidth":1,"strokeDash":[1,2]},"encoding":{"x":{"datum":0},"y":{"datum":5.9},"y2":{"datum":-7.8}}},
{"mark":{"type":"rule","color":"#444","strokeWidth":1.4,"strokeDash":[9,4]},"encoding":{"x":{"datum":168},"y":{"datum":5.9},"y2":{"datum":-7.8}}},
{"data":{"values":[{"t":30,"t2":202}]},"mark":{"type":"rule","color":"black","strokeWidth":4.5},"encoding":{"x2":{"field":"t2"},"y":{"datum":5.9}}}]},
{"width":275,"height":127,"encoding":{"x":{"field":"t","type":"quantitative","scale":{"domain":[-200,800],"nice":false},"axis":{"title":"Time (ms)","titleY":23}},"y":{"field":"y","type":"quantitative","scale":{"domain":[-3.3,8.2],"nice":false,"zero":false},"axis":{"title":"Amplitude (µV)","values":[-2,0,2,4,6,8]}}},"layer":[
{"data":{"name":"a3n"},"mark":{"type":"area","color":"#cfcfcf"},"encoding":{"y":{"field":"lo","type":"quantitative"},"y2":{"field":"hi"}}},
{"data":{"name":"a3s"},"mark":{"type":"area","color":"#f5a8cb"},"encoding":{"y":{"field":"lo","type":"quantitative"},"y2":{"field":"hi"}}},
{"data":{"name":"a3rs"},"mark":{"type":"line","strokeWidth":1.5,"color":"#ea5f96","strokeDash":[7,4]}},
{"data":{"name":"a3rn"},"mark":{"type":"line","strokeWidth":1.5,"color":"#b8b8b8","strokeDash":[6,4]}},
{"data":{"name":"a3n"},"mark":{"type":"line","strokeWidth":1.3,"color":"#8e8e8e"}},
{"data":{"name":"a3s"},"mark":{"type":"line","strokeWidth":1.5,"color":"#ea4f96"}},
{"data":{"name":"zero"},"mark":{"type":"line","color":"#222","strokeWidth":1,"strokeDash":[1,2]}},
{"mark":{"type":"rule","color":"#222","strokeWidth":1,"strokeDash":[1,2]},"encoding":{"x":{"datum":0},"y":{"datum":8},"y2":{"datum":-3.3}}},
{"mark":{"type":"rule","color":"#444","strokeWidth":1.4,"strokeDash":[9,4]},"encoding":{"x":{"datum":333},"y":{"datum":8},"y2":{"datum":-3.3}}},
{"data":{"values":[{"t":225,"t2":800}]},"mark":{"type":"rule","color":"black","strokeWidth":4.5},"encoding":{"x2":{"field":"t2"},"y":{"datum":8}}}]},
{"width":275,"height":127,"encoding":{"x":{"field":"t","type":"quantitative","scale":{"domain":[-200,800],"nice":false},"axis":{"title":"Time (ms)","titleY":23}},"y":{"field":"y","type":"quantitative","scale":{"domain":[-3.2,11.3],"nice":false,"zero":false},"axis":{"title":"Amplitude (µV)","values":[0,5,10]}}},"layer":[
{"data":{"name":"a4n"},"mark":{"type":"area","color":"#cfcfcf"},"encoding":{"y":{"field":"lo","type":"quantitative"},"y2":{"field":"hi"}}},
{"data":{"name":"a4s"},"mark":{"type":"area","color":"#f5a8cb"},"encoding":{"y":{"field":"lo","type":"quantitative"},"y2":{"field":"hi"}}},
{"data":{"name":"a4rs"},"mark":{"type":"line","strokeWidth":1.5,"color":"#ea5f96","strokeDash":[7,4]}},
{"data":{"name":"a4rn"},"mark":{"type":"line","strokeWidth":1.5,"color":"#b8b8b8","strokeDash":[6,4]}},
{"data":{"name":"a4n"},"mark":{"type":"line","strokeWidth":1.3,"color":"#8e8e8e"}},
{"data":{"name":"a4s"},"mark":{"type":"line","strokeWidth":1.5,"color":"#ea4f96"}},
{"data":{"name":"zero"},"mark":{"type":"line","color":"#222","strokeWidth":1,"strokeDash":[1,2]}},
{"mark":{"type":"rule","color":"#222","strokeWidth":1,"strokeDash":[1,2]},"encoding":{"x":{"datum":0},"y":{"datum":11.1},"y2":{"datum":-3.2}}},
{"mark":{"type":"rule","color":"#444","strokeWidth":1.4,"strokeDash":[9,4]},"encoding":{"x":{"datum":413},"y":{"datum":11.1},"y2":{"datum":-3.2}}},
{"data":{"values":[{"t":270,"t2":645}]},"mark":{"type":"rule","color":"black","strokeWidth":4.5},"encoding":{"x2":{"field":"t2"},"y":{"datum":11.1}}}]},
{"width":275,"height":102,"title":{"text":"B","fontWeight":"bold","fontSize":28,"dx":-30,"offset":-97},"data":{"values":[]},"mark":"point","encoding":{}},
{"width":275,"height":102,"title":{"text":"SRL Initial versus SRL Final","fontSize":28,"dx":-322,"offset":-97},"data":{"values":[]},"mark":"point","encoding":{}},
{"width":275,"height":102,"data":{"values":[]},"mark":"point","encoding":{}},
{"width":275,"height":102,"data":{"values":[]},"mark":"point","encoding":{}},
{"width":275,"height":74,"title":{"text":"HCs","dx":117,"offset":-48,"fontSize":22},"encoding":{"x":{"field":"x","type":"quantitative","scale":{"domain":[-6.719,1.875],"nice":false,"zero":false},"axis":null},"y":{"field":"y","type":"quantitative","scale":{"domain":[-1.125,1.1875],"nice":false,"zero":false},"axis":null}},"layer":[
{"data":{"name":"scalp"},"mark":"area","encoding":{"y2":{"field":"y2"},"fill":{"datum":-0.7,"type":"quantitative","legend":{"orient":"none","legendX":264,"legendY":3,"values":[5,0,-5],"title":null}}}},
{"data":{"values":[{"x":-0.4,"y":0.92,"y2":0.88,"v":-2.2},{"x":0,"y":1,"y2":0.8,"v":-2.2},{"x":0.4,"y":0.92,"y2":0.88,"v":-2.2}]},"mark":"area","encoding":{"y2":{"field":"y2"},"fill":{"field":"v","type":"quantitative","legend":null}}},
{"data":{"name":"head"},"mark":{"type":"line","color":"#222","strokeWidth":1.5},"encoding":{"detail":{"field":"p"},"order":{"field":"i"}}},
{"data":{"name":"elec"},"transform":[{"filter":"datum.y>-0.6&&datum.x>-0.5&&datum.x<0.6"}],"mark":{"type":"point","filled":true,"color":"white","size":9,"opacity":1}},
{"data":{"values":[{"x":-0.35,"y":0.16}]},"mark":{"type":"point","filled":true,"color":"white","size":60,"opacity":1}}]},
{"width":275,"height":74,"title":{"text":"bvFTD","dx":100,"offset":-48,"fontSize":22},"encoding":{"x":{"field":"x","type":"quantitative","scale":{"domain":[-6.719,1.875],"nice":false,"zero":false},"axis":null},"y":{"field":"y","type":"quantitative","scale":{"domain":[-1.125,1.1875],"nice":false,"zero":false},"axis":null}},"layer":[
{"data":{"name":"scalp"},"mark":"area","encoding":{"y2":{"field":"y2"},"fill":{"datum":-6,"type":"quantitative","legend":{"orient":"none","legendX":259,"legendY":3,"values":[5,0,-5],"title":null}}}},
{"data":{"values":[{"r":1,"x":-0.72,"y":-0.65,"y2":-0.68,"v":-3.5},{"x":-0.45,"r":1,"y":-0.3,"y2":-0.87,"v":-3.5},{"x":-0.1,"r":1,"y":-0.25,"y2":-0.98,"v":-3.5},{"x":0.12,"r":1,"y":-0.3,"y2":-0.7,"v":-3.5},{"x":-0.35,"r":2,"y":-0.32,"y2":-0.6,"v":0},{"x":-0.2,"r":2,"y":-0.25,"y2":-0.65,"v":0},{"x":-0.05,"r":2,"y":-0.4,"y2":-0.65,"v":-1},{"x":0,"r":3,"y":-0.05,"y2":-0.2,"v":-2},{"x":0.05,"r":3,"y":0.05,"y2":-0.25,"v":-2},{"x":0.1,"r":3,"y":-0.05,"y2":-0.2,"v":-2}]},"mark":"area","encoding":{"y2":{"field":"y2"},"detail":{"field":"r"},"fill":{"field":"v","type":"quantitative","legend":null}}},
{"data":{"name":"head"},"mark":{"type":"line","color":"#222","strokeWidth":1.5},"encoding":{"detail":{"field":"p"},"order":{"field":"i"}}},
{"data":{"values":[{"x":-0.48,"y":-0.35}]},"mark":{"type":"point","filled":true,"color":"white","size":60,"opacity":1}}]},
{"width":275,"height":74,"title":{"text":"PD","dx":118,"offset":-48,"fontSize":22},"encoding":{"x":{"field":"x","type":"quantitative","scale":{"domain":[-6.688,1.906],"nice":false,"zero":false},"axis":null},"y":{"field":"y","type":"quantitative","scale":{"domain":[-1.125,1.1875],"nice":false,"zero":false},"axis":null}},"layer":[
{"data":{"name":"scalp"},"mark":"area","encoding":{"y2":{"field":"y2"},"fill":{"datum":-0.3,"type":"quantitative","legend":{"orient":"none","legendX":258,"legendY":3,"values":[5,0,-5],"title":null}}}},
{"data":{"values":[{"r":1,"x":0.4,"y":0.92,"y2":0.88,"v":4},{"r":1,"x":0.55,"y":0.83,"y2":0.65,"v":4},{"r":1,"x":0.7,"y":0.71,"y2":0.5,"v":4},{"r":1,"x":0.85,"y":0.52,"y2":0.5,"v":4},{"r":2,"x":-0.98,"y":0.2,"y2":0.1,"v":-2.2},{"r":2,"x":-0.85,"y":0.52,"y2":0.1,"v":-2.2},{"r":2,"x":-0.7,"y":0.71,"y2":0.5,"v":-2.2},{"r":2,"x":-0.55,"y":0.83,"y2":0.75,"v":-2.2},{"r":3,"x":-0.62,"y":0.5,"y2":0.25,"v":-4},{"r":3,"x":-0.45,"y":0.56,"y2":0.15,"v":-4},{"r":3,"x":-0.25,"y":0.5,"y2":0.25,"v":-4}]},"mark":"area","encoding":{"y2":{"field":"y2"},"detail":{"field":"r"},"fill":{"field":"v","type":"quantitative","legend":null}}},
{"data":{"name":"head"},"mark":{"type":"line","color":"#222","strokeWidth":1.5},"encoding":{"detail":{"field":"p"},"order":{"field":"i"}}},
{"data":{"values":[{"x":-0.35,"y":0.37}]},"mark":{"type":"point","filled":true,"color":"white","size":60,"opacity":1}}]},
{"width":275,"height":74,"title":{"text":"AD","dx":113,"offset":-48,"fontSize":22},"encoding":{"x":{"field":"x","type":"quantitative","scale":{"domain":[-6.531,2.063],"nice":false,"zero":false},"axis":null},"y":{"field":"y","type":"quantitative","scale":{"domain":[-1.125,1.1875],"nice":false,"zero":false},"axis":null}},"layer":[
{"data":{"name":"scalp"},"mark":"area","encoding":{"y2":{"field":"y2"},"fill":{"datum":0.3,"type":"quantitative","legend":{"orient":"none","legendX":255,"legendY":3,"values":[5,0,-5],"title":null}}}},
{"data":{"values":[{"r":1,"x":-1,"y":0,"y2":0,"v":2},{"r":1,"x":-0.95,"y":0.31,"y2":-0.1,"v":2},{"r":1,"x":-0.85,"y":0.52,"y2":0.05,"v":2},{"r":1,"x":-0.7,"y":0.71,"y2":0.6,"v":2},{"r":2,"x":0.82,"y":-0.05,"y2":-0.55,"v":-2},{"r":2,"x":0.95,"y":0,"y2":-0.31,"v":-2},{"r":2,"x":1,"y":0,"y2":0,"v":-2}]},"mark":"area","encoding":{"y2":{"field":"y2"},"detail":{"field":"r"},"fill":{"field":"v","type":"quantitative","legend":null}}},
{"data":{"name":"head"},"mark":{"type":"line","color":"#222","strokeWidth":1.5},"encoding":{"detail":{"field":"p"},"order":{"field":"i"}}},
{"data":{"values":[{"x":0.17,"y":0.39}]},"mark":{"type":"point","filled":true,"color":"white","size":60,"opacity":1}}]},
{"width":275,"height":126,"encoding":{"x":{"field":"t","type":"quantitative","scale":{"domain":[-200,800],"nice":false},"axis":{"title":"Time (ms)","titleY":17}},"y":{"field":"y","type":"quantitative","scale":{"domain":[-5.3,10.2],"nice":false,"zero":false},"axis":{"title":"Amplitude (µV)","values":[0,5,10]}}},"layer":[
{"data":{"name":"b1f"},"mark":{"type":"area","color":"#e8a6cf"},"encoding":{"y":{"field":"lo","type":"quantitative"},"y2":{"field":"hi"}}},
{"data":{"name":"b1i"},"mark":{"type":"area","color":"#f8c4e6"},"encoding":{"y":{"field":"lo","type":"quantitative"},"y2":{"field":"hi"}}},
{"data":{"name":"b1rf"},"mark":{"type":"line","strokeWidth":1.5},"encoding":{"stroke":{"datum":"SRL final reference","type":"nominal","legend":{"orient":"none","legendX":430,"legendY":-129,"columns":2,"direction":"vertical","values":["SRL final set","SRL initial set","SRL final reference","SRL initial reference"],"title":null,"symbolType":"stroke","symbolSize":700,"rowPadding":0,"columnPadding":2,"labelFontSize":14.5}},"strokeDash":{"datum":"SRL final reference","type":"nominal","legend":{"orient":"none","legendX":430,"legendY":-129,"columns":2,"direction":"vertical","values":["SRL final set","SRL initial set","SRL final reference","SRL initial reference"],"title":null,"symbolType":"stroke","symbolSize":700,"rowPadding":0,"columnPadding":2,"labelFontSize":14.5}}}},
{"data":{"name":"b1ri"},"mark":{"type":"line","strokeWidth":1.5},"encoding":{"stroke":{"datum":"SRL initial reference","type":"nominal","legend":null},"strokeDash":{"datum":"SRL initial reference","type":"nominal","legend":null}}},
{"data":{"name":"b1i"},"mark":{"type":"line","strokeWidth":1.5},"encoding":{"stroke":{"datum":"SRL initial set","type":"nominal","legend":null},"strokeDash":{"datum":"SRL initial set","type":"nominal","legend":null}}},
{"data":{"name":"b1f"},"mark":{"type":"line","strokeWidth":1.5},"encoding":{"stroke":{"datum":"SRL final set","type":"nominal","legend":null},"strokeDash":{"datum":"SRL final set","type":"nominal","legend":null}}},
{"data":{"name":"zero"},"mark":{"type":"line","color":"#222","strokeWidth":1,"strokeDash":[1,2]}},
{"mark":{"type":"rule","color":"#222","strokeWidth":1,"strokeDash":[1,2]},"encoding":{"x":{"datum":0},"y":{"datum":10},"y2":{"datum":-5.3}}},
{"mark":{"type":"rule","color":"#444","strokeWidth":1.4,"strokeDash":[9,4]},"encoding":{"x":{"datum":246},"y":{"datum":10},"y2":{"datum":-5.3}}},
{"data":{"values":[{"t":158,"t2":446}]},"mark":{"type":"rule","color":"black","strokeWidth":4.5},"encoding":{"x2":{"field":"t2"},"y":{"datum":10}}}]},
{"width":275,"height":126,"encoding":{"x":{"field":"t","type":"quantitative","scale":{"domain":[-200,800],"nice":false,"range":[5,272]},"axis":{"title":"Time (ms)","titleY":16}},"y":{"field":"y","type":"quantitative","scale":{"domain":[-19.4,6.7],"nice":false,"zero":false},"axis":{"title":"Amplitude (µV)","values":[-15,-10,-5,0,5],"offset":-5}}},"layer":[
{"data":{"name":"b2f"},"mark":{"type":"area","color":"#e8a6cf"},"encoding":{"y":{"field":"lo","type":"quantitative"},"y2":{"field":"hi"}}},
{"data":{"name":"b2i"},"mark":{"type":"area","color":"#f8c4e6"},"encoding":{"y":{"field":"lo","type":"quantitative"},"y2":{"field":"hi"}}},
{"data":{"name":"b2rf"},"mark":{"type":"line","strokeWidth":1.5,"color":"#c9478f","strokeDash":[7,4]}},
{"data":{"name":"b2ri"},"mark":{"type":"line","strokeWidth":1.5,"color":"#f6b4de","strokeDash":[7,4]}},
{"data":{"name":"b2i"},"mark":{"type":"line","strokeWidth":1.5,"color":"#f08fd0"}},
{"data":{"name":"b2f"},"mark":{"type":"line","strokeWidth":1.5,"color":"#c2438f"}},
{"data":{"name":"zero"},"mark":{"type":"line","color":"#222","strokeWidth":1,"strokeDash":[1,2]}},
{"mark":{"type":"rule","color":"#222","strokeWidth":1,"strokeDash":[1,2]},"encoding":{"x":{"datum":0},"y":{"datum":6.7},"y2":{"datum":-19.4}}},
{"mark":{"type":"rule","color":"#444","strokeWidth":1.4,"strokeDash":[9,4]},"encoding":{"x":{"datum":795},"y":{"datum":6.7},"y2":{"datum":-19.4}}}]},
{"width":275,"height":126,"encoding":{"x":{"field":"t","type":"quantitative","scale":{"domain":[-200,800],"nice":false},"axis":{"title":"Time (ms)","titleY":17}},"y":{"field":"y","type":"quantitative","scale":{"domain":[-8.4,22.8],"nice":false,"zero":false},"axis":{"title":"Amplitude (µV)","values":[-5,0,5,10,15,20]}}},"layer":[
{"data":{"name":"b3f"},"mark":{"type":"area","color":"#e8a6cf"},"encoding":{"y":{"field":"lo","type":"quantitative"},"y2":{"field":"hi"}}},
{"data":{"name":"b3i"},"mark":{"type":"area","color":"#f8c4e6"},"encoding":{"y":{"field":"lo","type":"quantitative"},"y2":{"field":"hi"}}},
{"data":{"name":"b3rf"},"mark":{"type":"line","strokeWidth":1.5,"color":"#c9478f","strokeDash":[7,4]}},
{"data":{"name":"b3ri"},"mark":{"type":"line","strokeWidth":1.5,"color":"#f6b4de","strokeDash":[7,4]}},
{"data":{"name":"b3i"},"mark":{"type":"line","strokeWidth":1.5,"color":"#f08fd0"}},
{"data":{"name":"b3f"},"mark":{"type":"line","strokeWidth":1.5,"color":"#c2438f"}},
{"data":{"name":"zero"},"mark":{"type":"line","color":"#222","strokeWidth":1,"strokeDash":[1,2]}},
{"mark":{"type":"rule","color":"#222","strokeWidth":1,"strokeDash":[1,2]},"encoding":{"x":{"datum":0},"y":{"datum":22.8},"y2":{"datum":-8.4}}},
{"mark":{"type":"rule","color":"#444","strokeWidth":1.4,"strokeDash":[9,4]},"encoding":{"x":{"datum":252},"y":{"datum":22.8},"y2":{"datum":-8.4}}}]},
{"width":275,"height":126,"encoding":{"x":{"field":"t","type":"quantitative","scale":{"domain":[-200,800],"nice":false},"axis":{"title":"Time (ms)","titleY":18}},"y":{"field":"y","type":"quantitative","scale":{"domain":[-3.5,10.7],"nice":false,"zero":false},"axis":{"title":"Amplitude (µV)","values":[-2,0,2,4,6,8,10]}}},"layer":[
{"data":{"name":"b4f"},"mark":{"type":"area","color":"#e8a6cf"},"encoding":{"y":{"field":"lo","type":"quantitative"},"y2":{"field":"hi"}}},
{"data":{"name":"b4i"},"mark":{"type":"area","color":"#f8c4e6"},"encoding":{"y":{"field":"lo","type":"quantitative"},"y2":{"field":"hi"}}},
{"data":{"name":"b4rf"},"mark":{"type":"line","strokeWidth":1.5,"color":"#c9478f","strokeDash":[7,4]}},
{"data":{"name":"b4ri"},"mark":{"type":"line","strokeWidth":1.5,"color":"#f6b4de","strokeDash":[7,4]}},
{"data":{"name":"b4i"},"mark":{"type":"line","strokeWidth":1.5,"color":"#f08fd0"}},
{"data":{"name":"b4f"},"mark":{"type":"line","strokeWidth":1.5,"color":"#c2438f"}},
{"data":{"name":"zero"},"mark":{"type":"line","color":"#222","strokeWidth":1,"strokeDash":[1,2]}},
{"mark":{"type":"rule","color":"#222","strokeWidth":1,"strokeDash":[1,2]},"encoding":{"x":{"datum":0},"y":{"datum":10.7},"y2":{"datum":-3.5}}},
{"mark":{"type":"rule","color":"#444","strokeWidth":1.4,"strokeDash":[9,4]},"encoding":{"x":{"datum":223},"y":{"datum":10.7},"y2":{"datum":-3.5}}}]}
]}
